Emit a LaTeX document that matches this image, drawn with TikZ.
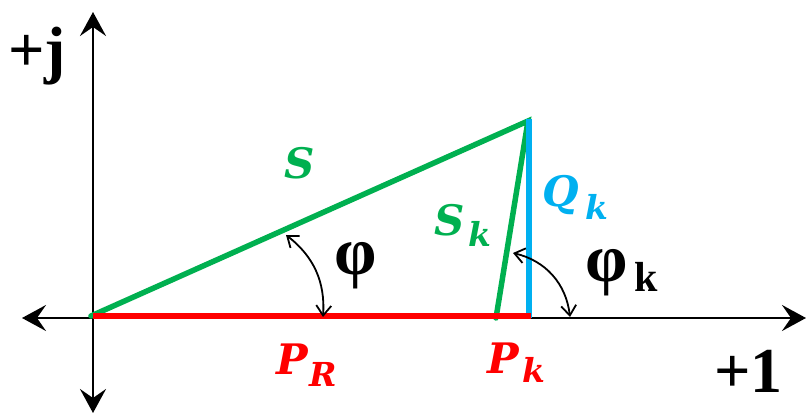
\documentclass[tikz,border=0pt]{standalone}
\usepackage{fontspec}
\setmainfont{Liberation Serif}
\newfontfamily\lblfont{DejaVu Serif}
\usetikzlibrary{arrows.meta}
\definecolor{pgreen}{HTML}{00B050}
\definecolor{pblue}{HTML}{00B0F0}
\definecolor{pred}{HTML}{FF0000}
\tikzset{
  axis/.style={line width=2.4pt, black, {Stealth[length=24pt,width=26pt,inset=9pt]}-{Stealth[length=24pt,width=26pt,inset=9pt]}},
  vec/.style={line width=5.5pt},
  anglearrow/.style={line width=1.8pt, black, {Straight Barb[length=10pt,width=15pt,line width=1.8pt]}-{Straight Barb[length=10pt,width=15pt,line width=1.8pt]}},
  lbl/.style={inner sep=0pt, font=\lblfont\bfseries\itshape\fontsize{42}{42}\selectfont},
  axlbl/.style={inner sep=0pt, anchor=base west, font=\bfseries\fontsize{64}{64}\selectfont},
  phil/.style={inner sep=0pt, font=\bfseries\fontsize{68}{68}\selectfont}
}
\newcommand{\subs}[3]{\rlap{\hspace{#1}\smash{\raisebox{-#2}{\fontsize{33}{33}\selectfont #3}}}}
\newcommand{\subsphi}[3]{\rlap{\hspace{#1}\smash{\raisebox{-#2}{\fontsize{42}{42}\selectfont #3}}}}
\begin{document}
\begin{tikzpicture}[x=1pt,y=-1pt]
\useasboundingbox (0,0) rectangle (807,414);
% axis ends
\coordinate (yt) at (93,12);
\coordinate (yb) at (93,413);
\coordinate (xl) at (22,318);
\coordinate (xr) at (806,318);
% triangle points
\coordinate (O) at (91,316);
\coordinate (R0) at (93,316);
\coordinate (T) at (528,121);
\coordinate (Tb) at (529,119);
\coordinate (B) at (529,318);
\coordinate (K) at (496,318);
\coordinate (E) at (531,316);
% axes
\draw[axis] (yb) -- (yt);
\draw[axis] (xl) -- (xr);
% vectors
\draw[vec, pgreen, line cap=round] (O) -- (T) -- (K);
\draw[vec, pblue] (Tb) -- (B);
\draw[vec, pred] (R0) -- (E);
% angle arcs
\coordinate (a1) at (286,235);
\coordinate (a2) at (323,317);
\coordinate (b1) at (513,253);
\coordinate (b2) at (570,317);
\draw[anglearrow] (a1) to[bend left=28] (a2);
\draw[anglearrow] (b1) to[bend left=35] (b2);
% labels
\node[axlbl] (lj) at (8,72) {+j};
\node[axlbl] (l1) at (714,392) {+1};
\node[lbl, text=pgreen] (lS) at (300,163) {S};
\node[lbl, text=pgreen] (lSk) at (450,220) {S\subs{3pt}{11pt}{k}};
\node[lbl, text=pblue] (lQk) at (561,195) {Q\subs{6pt}{13pt}{k}};
\node[lbl, text=pred] (lPR) at (292,359) {P\subs{2pt}{12pt}{R}};
\node[lbl, text=pred] (lPk) at (503,358) {P\subs{4pt}{9pt}{k}};
\node[phil] (lphi) at (356,266) {φ};
\node[phil] (lphik) at (607,273) {φ\subsphi{6pt}{10pt}{k}};
\end{tikzpicture}
\end{document}
